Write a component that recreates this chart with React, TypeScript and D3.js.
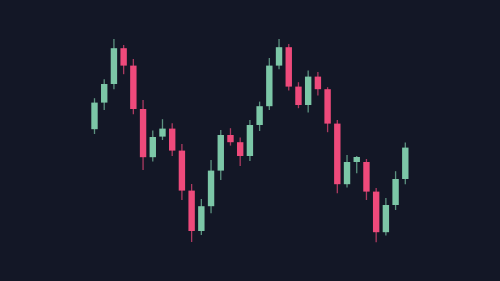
import React from "react";
import * as d3 from "d3";

const opens = [156.4, 169.7, 179.0, 196.9, 188.2, 166.5, 142.4, 152.7, 156.7, 145.7, 125.7, 105.5, 117.9, 135.7, 153.5, 149.9, 143.0, 158.5, 167.9, 188.2, 197.4, 177.7, 168.5, 182.7, 176.4, 159.2, 128.9, 140.0, 140.0, 125.2, 104.9, 118.5, 131.5];
const highs = [171.9, 181.4, 201.5, 198.5, 191.5, 171.0, 155.7, 161.4, 159.4, 149.0, 129.0, 121.5, 141.0, 156.0, 156.9, 152.2, 161.0, 170.2, 192.0, 201.5, 199.0, 179.9, 185.7, 185.0, 177.4, 161.0, 143.5, 143.0, 141.5, 127.0, 122.0, 135.4, 149.7];
const lows = [154.0, 166.0, 176.4, 183.9, 163.9, 136.0, 140.2, 151.0, 143.0, 121.0, 100.0, 103.5, 114.4, 131.0, 148.2, 138.0, 140.5, 155.5, 166.0, 186.4, 175.7, 166.9, 164.7, 173.2, 154.9, 124.4, 127.2, 134.4, 121.0, 99.9, 103.2, 116.0, 128.9];
const closes = [169.7, 179.0, 196.9, 188.2, 166.5, 142.4, 152.5, 156.7, 145.7, 125.7, 105.5, 117.9, 135.7, 153.5, 149.9, 143.0, 158.5, 167.9, 188.2, 197.4, 177.7, 168.5, 182.7, 176.4, 159.2, 128.9, 140.0, 142.5, 125.2, 104.9, 118.5, 131.5, 147.2];

const W = 500;
const H = 281;
const UP = "#7cc7a7";
const DOWN = "#ee4a7b";
const BG = "#131726";

export default function App() {
  const idx = d3.range(opens.length);
  const x = d3.scalePoint<number>().domain(idx).range([94.5, 405.3]);
  const y = d3.scaleLinear().domain([100, 201.5]).range([242, 39]);
  const bw = 6.4;
  return (
    <svg width={W} height={H} style={{ position: "absolute", left: 0, top: 0, display: "block" }}>
      <rect x={0} y={0} width={W} height={H} fill={BG} />
      {idx.map((i) => {
        const o = opens[i], c = closes[i], h = highs[i], l = lows[i];
        const up = c >= o;
        const col = up ? UP : DOWN;
        const cx = x(i) as number;
        const top = y(Math.max(o, c));
        const bot = y(Math.min(o, c));
        return (
          <g key={i}>
            <line x1={cx} x2={cx} y1={y(h)} y2={y(l)} stroke={col} strokeWidth={1.3} strokeOpacity={0.7} />
            <rect x={cx - bw / 2} y={top} width={bw} height={Math.max(1, bot - top)} fill={col} />
          </g>
        );
      })}
    </svg>
  );
}
